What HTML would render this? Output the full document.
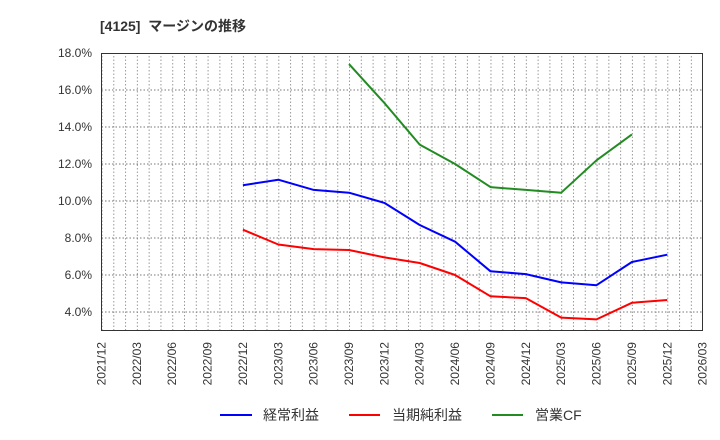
<!DOCTYPE html>
<html><head><meta charset="utf-8"><style>
html,body{margin:0;padding:0;background:#fff;}
svg{display:block;font-family:"Liberation Sans","Noto Sans CJK JP",sans-serif;}
</style></head><body>
<svg width="720" height="440" viewBox="0 0 720 440">
<defs>
<pattern id="vg" x="101.5" y="0" width="11.787" height="440" patternUnits="userSpaceOnUse">
<line x1="0.5" y1="0" x2="0.5" y2="440" stroke="#999" stroke-width="1" stroke-dasharray="1.5,2"/>
</pattern>
</defs>
<text x="100" y="31" font-size="14" font-weight="bold" fill="#333">[4125]&#160;&#160;マージンの推移</text>
<rect x="101.5" y="53" width="601" height="277.5" fill="url(#vg)"/>
<g stroke="#777" stroke-width="1" stroke-dasharray="1.5,2">
<line x1="101.5" y1="90" x2="702" y2="90"/>
<line x1="101.5" y1="127" x2="702" y2="127"/>
<line x1="101.5" y1="164" x2="702" y2="164"/>
<line x1="101.5" y1="201" x2="702" y2="201"/>
<line x1="101.5" y1="238" x2="702" y2="238"/>
<line x1="101.5" y1="275" x2="702" y2="275"/>
<line x1="101.5" y1="312" x2="702" y2="312"/>
</g>
<rect x="101.5" y="53.5" width="601" height="277" fill="none" stroke="#333" stroke-width="1"/>
<g font-size="12" fill="#333" text-anchor="end">
<text x="92" y="57">18.0%</text>
<text x="92" y="94">16.0%</text>
<text x="92" y="131">14.0%</text>
<text x="92" y="168">12.0%</text>
<text x="92" y="205">10.0%</text>
<text x="92" y="242">8.0%</text>
<text x="92" y="279">6.0%</text>
<text x="92" y="316">4.0%</text>
</g>
<g font-size="12" fill="#333" text-anchor="end">
<text transform="translate(105.5,342) rotate(-90)">2021/12</text>
<text transform="translate(140.9,342) rotate(-90)">2022/03</text>
<text transform="translate(176.2,342) rotate(-90)">2022/06</text>
<text transform="translate(211.6,342) rotate(-90)">2022/09</text>
<text transform="translate(246.9,342) rotate(-90)">2022/12</text>
<text transform="translate(282.3,342) rotate(-90)">2023/03</text>
<text transform="translate(317.7,342) rotate(-90)">2023/06</text>
<text transform="translate(353,342) rotate(-90)">2023/09</text>
<text transform="translate(388.4,342) rotate(-90)">2023/12</text>
<text transform="translate(423.7,342) rotate(-90)">2024/03</text>
<text transform="translate(459.1,342) rotate(-90)">2024/06</text>
<text transform="translate(494.5,342) rotate(-90)">2024/09</text>
<text transform="translate(529.8,342) rotate(-90)">2024/12</text>
<text transform="translate(565.2,342) rotate(-90)">2025/03</text>
<text transform="translate(600.5,342) rotate(-90)">2025/06</text>
<text transform="translate(635.9,342) rotate(-90)">2025/09</text>
<text transform="translate(671.3,342) rotate(-90)">2025/12</text>
<text transform="translate(706.6,342) rotate(-90)">2026/03</text>
</g>
<g fill="none" stroke-width="2" stroke-linejoin="round">
<polyline stroke="#0000ff" points="242.9,185.3 278.3,179.7 313.7,189.9 349,192.7 384.4,202.9 419.7,225 455.1,241.7 490.5,271.3 525.8,274.1 561.2,282.4 596.5,285.2 631.9,262 667.3,254.7"/>
<polyline stroke="#ff0000" points="242.9,229.7 278.3,244.5 313.7,249.1 349,250 384.4,257.4 419.7,263 455.1,275 490.5,296.3 525.8,298.1 561.2,317.6 596.5,319.4 631.9,302.8 667.3,300"/>
<polyline stroke="#228b22" points="349,64.1 384.4,103 419.7,144.6 455.1,164 490.5,187.1 525.8,189.9 561.2,192.7 596.5,160.3 631.9,134.4"/>
</g>
<g font-size="14" fill="#333">
<line x1="220" y1="415" x2="252" y2="415" stroke="#0000ff" stroke-width="2"/>
<text x="263" y="420">経常利益</text>
<line x1="349" y1="415" x2="380" y2="415" stroke="#ff0000" stroke-width="2"/>
<text x="392" y="420">当期純利益</text>
<line x1="492" y1="415" x2="523" y2="415" stroke="#228b22" stroke-width="2"/>
<text x="535" y="420">営業CF</text>
</g>
</svg>
</body></html>
